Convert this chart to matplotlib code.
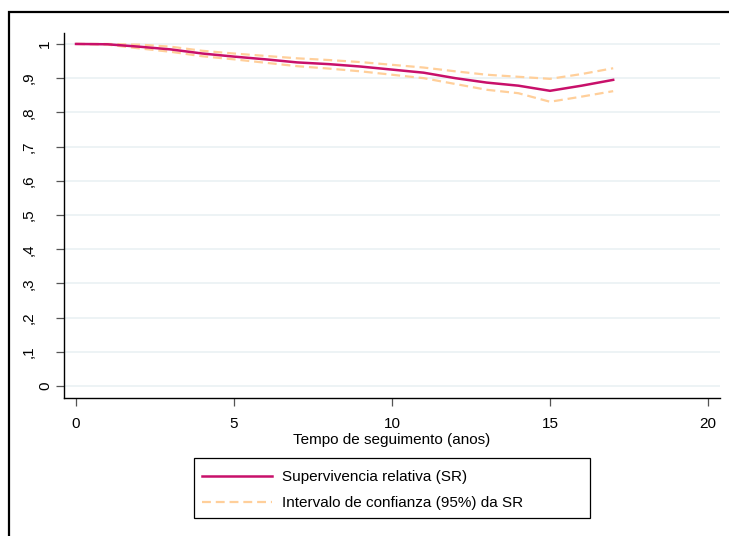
import matplotlib
matplotlib.use("Agg")
import matplotlib.pyplot as plt
from matplotlib.patches import Rectangle
from matplotlib.transforms import ScaledTranslation

plt.rcParams["font.family"] = ["Liberation Sans", "DejaVu Sans"]

# relative survival and 95% CI by follow-up year
years = [0, 1, 2, 3, 4, 5, 6, 7, 8, 9, 10, 11, 12, 13, 14, 15, 16, 17]
sr = [1.0, 0.999, 0.992, 0.984, 0.972, 0.963, 0.955, 0.946, 0.941, 0.934,
      0.925, 0.916, 0.900, 0.887, 0.878, 0.863, 0.878, 0.895]
sr_hi = [1.0, 1.0, 0.998, 0.992, 0.980, 0.972, 0.965, 0.958, 0.953, 0.947,
         0.939, 0.931, 0.920, 0.910, 0.904, 0.898, 0.912, 0.929]
sr_lo = [1.0, 0.998, 0.987, 0.977, 0.964, 0.955, 0.945, 0.935, 0.928, 0.920,
         0.910, 0.900, 0.883, 0.866, 0.856, 0.831, 0.846, 0.862]

x_ticks = [0, 5, 10, 15, 20]
y_ticks = [0, 0.1, 0.2, 0.3, 0.4, 0.5, 0.6, 0.7, 0.8, 0.9, 1.0]
y_labels = ["0", ",1", ",2", ",3", ",4", ",5", ",6", ",7", ",8", ",9", "1"]

SR_COLOR = "#c8106a"
CI_COLOR = "#ffcf9a"
GRID = "#eaf1f3"
FS = 11

fig = plt.figure(figsize=(7.29, 5.36), dpi=100, facecolor="white")
ax = fig.add_axes([64 / 729, 1 - 398 / 536, 656 / 729, 365 / 536])

# outer frame (only top and left edges visible in the crop)
fig.patches.append(Rectangle((9 / 729, -0.1), 1.2, 1 - 12 / 536 + 0.1,
                             transform=fig.transFigure, fill=False,
                             edgecolor="black", linewidth=1.6))

for yv in y_ticks:
    ax.axhline(yv, color=GRID, linewidth=1.2, zorder=0)

ax.plot(years, sr_hi, color=CI_COLOR, linewidth=1.6, dashes=(4, 2.2),
        label="Intervalo de confianza (95%) da SR", zorder=2)
ax.plot(years, sr_lo, color=CI_COLOR, linewidth=1.6, dashes=(4, 2.2), zorder=2)
ax.plot(years, sr, color=SR_COLOR, linewidth=1.8,
        label="Supervivencia relativa (SR)", zorder=3)

ax.set_xlim(-0.38, 20.38)
ax.set_ylim(-0.035, 1.032)
ax.set_xticks(x_ticks)
ax.set_yticks(y_ticks)
ax.set_yticklabels([])
ax.tick_params(axis="both", length=6, width=0.9, color="#555555",
               labelsize=FS)
ax.tick_params(axis="x", pad=8)

# rotated y labels; Stata pushes the ",x" labels further left
for yv, txt in zip(y_ticks, y_labels):
    dx = -0.12 if txt in ("0", "1") else -0.28
    tr = ax.get_yaxis_transform() + ScaledTranslation(dx, 0, fig.dpi_scale_trans)
    ax.text(0, yv, txt, transform=tr, rotation=90, ha="right", va="center",
            fontsize=FS)

for s in ["top", "right"]:
    ax.spines[s].set_visible(False)
for s in ["left", "bottom"]:
    ax.spines[s].set_linewidth(1.0)

ax.set_xlabel("Tempo de seguimento (anos)", fontsize=FS, labelpad=1)

# legend box
fig.patches.append(Rectangle((194 / 729, 1 - 518 / 536), 396 / 729, 60 / 536,
                             transform=fig.transFigure, fill=False,
                             edgecolor="black", linewidth=0.9))
h, l = ax.get_legend_handles_labels()
leg = fig.legend([h[1], h[0]], [l[1], l[0]], loc="upper left",
                 bbox_to_anchor=(202 / 729, 1 - 470 / 536), fontsize=FS,
                 frameon=False, handlelength=4.6, handletextpad=0.65,
                 borderpad=0, labelspacing=0.8, borderaxespad=0)

fig.savefig("out.png", dpi=100, facecolor="white")
